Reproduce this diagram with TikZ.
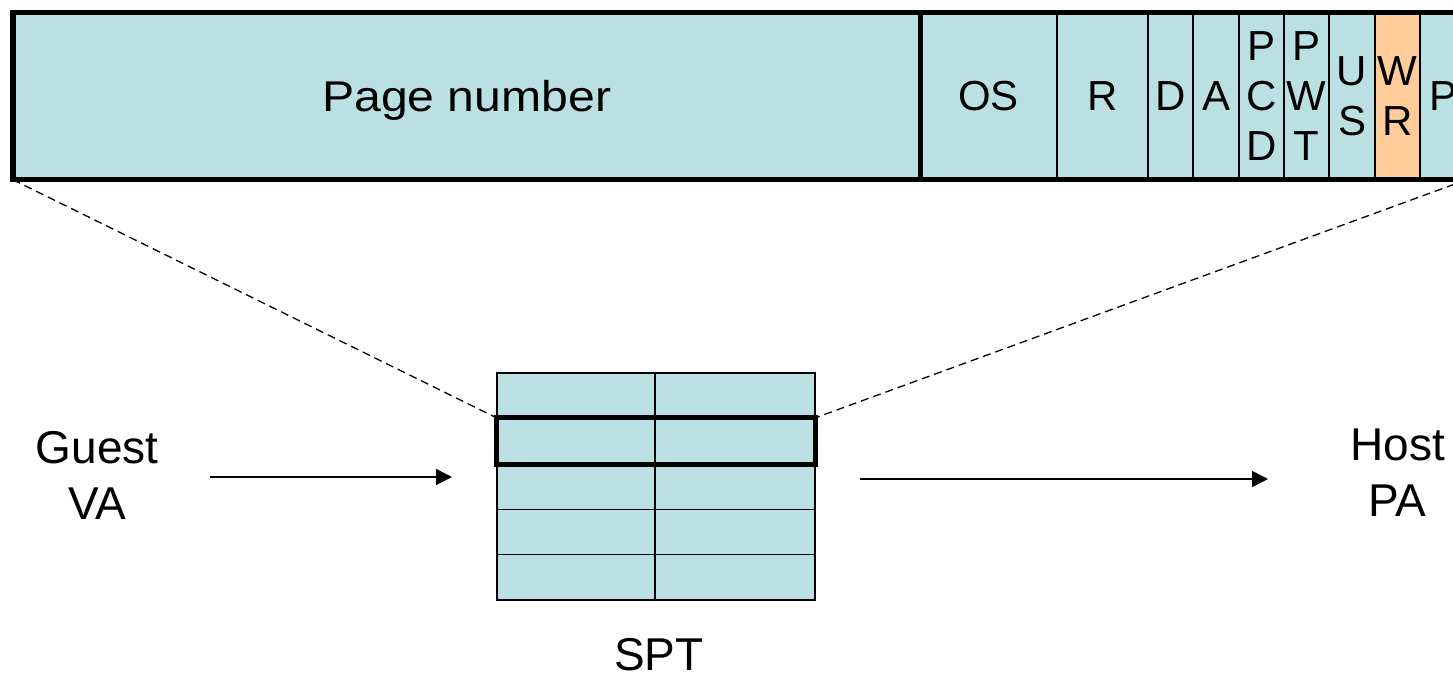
\documentclass[tikz,border=0pt]{standalone}
\usepackage{fontspec}
\setmainfont{Liberation Sans}
\usetikzlibrary{arrows.meta}
\definecolor{cellblue}{RGB}{187,224,227}
\definecolor{cellorange}{RGB}{255,204,153}
\begin{document}
\begin{tikzpicture}[x=1pt,y=-1pt,
  thinline/.style={line width=1.4pt},
  thickline/.style={line width=5.5pt},
  barcell/.style={draw, thinline, fill=cellblue, minimum height=166pt, inner sep=0pt,
    align=center, font=\fontsize{42}{50}\selectfont},
  tabcell/.style={draw, thinline, fill=cellblue, minimum height=45.4pt, inner sep=0pt},
  lbl/.style={font=\fontsize{46}{56}\selectfont, align=center, inner sep=0pt},
  zoomline/.style={line width=1.3pt, dash pattern=on 8pt off 5pt},
  arr/.style={line width=1.5pt, -{Triangle[length=16pt,width=16pt]}}
]
\useasboundingbox (0,0) rectangle (1453,675);
\clip (0,0) rectangle (1453,675);

% --- page table entry bar ---
\node[barcell, minimum width=906.5pt, text depth=0pt, font=\fontsize{43}{50}\selectfont] (pagenum) at (466.75,96) {\scalebox{1.12}[1]{Page number}};
\node[barcell, minimum width=137pt] (os)  at (988.5,96)  {OS};
\node[barcell, minimum width=91pt]  (r)   at (1102.5,96) {R};
\node[barcell, minimum width=45pt]  (d)   at (1170.5,96) {D};
\node[barcell, minimum width=46pt]  (a)   at (1216,96)   {A};
\node[barcell, minimum width=45pt]  (pcd) at (1261.5,96) {P\\C\\D};
\node[barcell, minimum width=45pt]  (pwt) at (1306.5,96) {P\\W\\T};
\node[barcell, minimum width=46pt]  (us)  at (1352,96)   {U\\S};
\node[barcell, minimum width=45pt, fill=cellorange] (wr) at (1397.5,96) {W\\R};
\node[barcell, minimum width=46pt]  (p)   at (1443,96)   {P};
\draw[thickline] (pagenum.north west) rectangle (p.south east);
\draw[thickline] (pagenum.north east) -- (pagenum.south east);

% --- SPT table ---
\foreach \r/\y in {1/395.7, 2/441.1, 3/486.5, 4/531.9, 5/577.3}{
  \node[tabcell, minimum width=158pt] (t\r1) at (576,\y) {};
  \node[tabcell, minimum width=160pt] (t\r2) at (735,\y) {};
}
\draw[line width=5pt] (t21.north west) rectangle (t22.south east);

% --- zoom lines ---
\draw[zoomline] (pagenum.south west) -- (t21.north west);
\draw[zoomline] (p.south east) -- (t22.north east);

% --- labels ---
\node[lbl] (guest) at (97,475) {Guest\\VA};
\node[lbl] (host) at (1397.5,472.5) {Host\\PA};
\node[lbl, text depth=0pt] (spt) at (659,654) {SPT};

% --- arrows ---
\coordinate (ga) at (210,477);
\coordinate (gb) at (452,477);
\coordinate (ha) at (860,479);
\coordinate (hb) at (1268,479);
\draw[arr] (ga) -- (gb);
\draw[arr] (ha) -- (hb);
\end{tikzpicture}
\end{document}
